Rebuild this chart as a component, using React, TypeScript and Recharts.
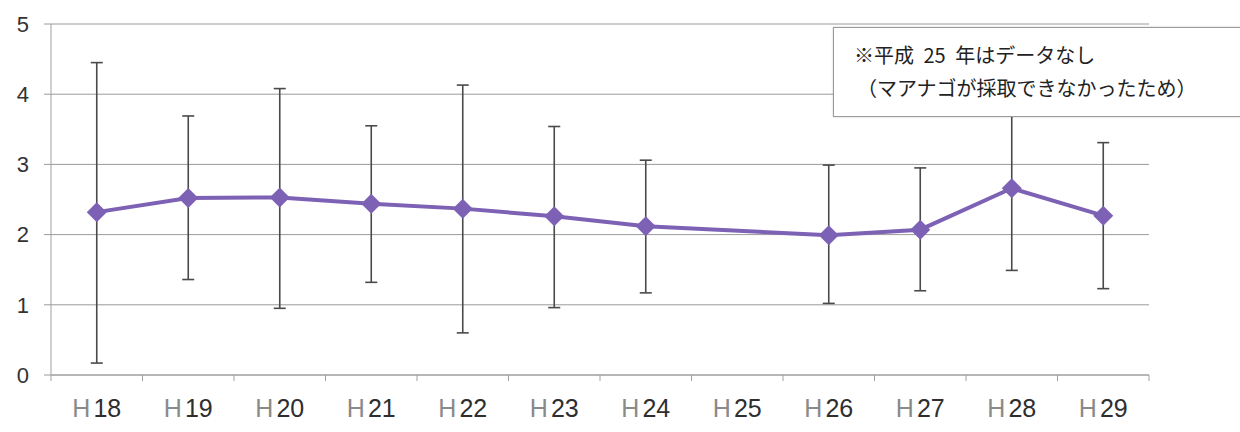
import { LineChart, Line, XAxis, YAxis, CartesianGrid, ErrorBar } from "recharts";

// values (H25: no sample)
const categories = ["H18", "H19", "H20", "H21", "H22", "H23", "H24", "H25", "H26", "H27", "H28", "H29"];
const meanValues = [2.32, 2.52, 2.53, 2.44, 2.37, 2.26, 2.12, null, 1.99, 2.07, 2.66, 2.27];
const upperValues = [4.45, 3.69, 4.08, 3.55, 4.13, 3.54, 3.06, null, 2.99, 2.95, 3.83, 3.31];
const lowerValues = [0.17, 1.36, 0.95, 1.32, 0.6, 0.96, 1.17, null, 1.02, 1.2, 1.49, 1.23];
const yTicks = [0, 1, 2, 3, 4, 5];
const noteLines = ["※平成 25 年はデータなし", "（マアナゴが採取できなかったため）"];

const W = 1240;
const H = 432;
const AXIS_W = 51;
const margin = { top: 24, right: 91, left: 0, bottom: 16 };
const bandWidth = (W - AXIS_W - margin.right) / categories.length;

const data = categories.map((name, i) => {
  const m = meanValues[i];
  const hi = upperValues[i];
  const lo = lowerValues[i];
  return {
    name,
    mean: m,
    err: m == null || hi == null || lo == null ? null : [m - lo, hi - m],
  };
});

function XTick(props: any) {
  const { x, y, payload, index } = props;
  const label = String(payload.value);
  const left = x - bandWidth / 2;
  const right = x + bandWidth / 2;
  return (
    <g>
      <line x1={left} y1={y} x2={left} y2={y + 6} stroke="#a0a0a0" />
      {index === categories.length - 1 && <line x1={right} y1={y} x2={right} y2={y + 6} stroke="#a0a0a0" />}
      <text x={x} y={y + 42} textAnchor="middle" fontSize={25} fontFamily="Arial, 'Liberation Sans', sans-serif">
        <tspan fill="#8a8a8a">{label.slice(0, 1)}</tspan>
        <tspan fill="#2e2e2e" dx={3}>{label.slice(1)}</tspan>
      </text>
    </g>
  );
}

function Diamond(props: any) {
  const { cx, cy, index } = props;
  if (cx == null || cy == null || isNaN(cy)) return <g key={`d-${index}`} />;
  const r = 10;
  return (
    <polygon
      key={`d-${index}`}
      points={`${cx},${cy - r} ${cx + r},${cy} ${cx},${cy + r} ${cx - r},${cy}`}
      fill="#7d61b5"
    />
  );
}

export default function App() {
  return (
    <div style={{ position: "absolute", left: 0, top: 0, width: W, height: H, background: "#fff", overflow: "hidden" }}>
      <LineChart width={W} height={H} data={data} margin={margin}>
        <CartesianGrid vertical={false} stroke="#9a9a9a" />
        <XAxis
          dataKey="name"
          axisLine={{ stroke: "#a0a0a0" }}
          tickLine={false}
          tickSize={0}
          tickMargin={0}
          height={41}
          interval={0}
          padding={{ left: bandWidth / 2, right: bandWidth / 2 }}
          tick={<XTick />}
        />
        <YAxis
          domain={[0, 5]}
          ticks={yTicks}
          width={AXIS_W}
          axisLine={{ stroke: "#a0a0a0" }}
          tickLine={{ stroke: "#9a9a9a" }}
          tickSize={7}
          tickMargin={15}
          tick={{ fontSize: 22, fill: "#333", fontFamily: "Arial, 'Liberation Sans', sans-serif" }}
        />
        {/* error bars drawn first so the purple line sits on top */}
        <Line dataKey="mean" stroke="none" dot={false} activeDot={false} isAnimationActive={false}>
          <ErrorBar dataKey="err" direction="y" width={6} stroke="#4a4a4a" strokeWidth={1.6} />
        </Line>
        <Line
          dataKey="mean"
          connectNulls
          stroke="#7d61b5"
          strokeWidth={4}
          dot={(p: any) => <Diamond {...p} />}
          activeDot={false}
          isAnimationActive={false}
        />
      </LineChart>
      <div
        style={{
          position: "absolute",
          left: 833,
          top: 27,
          width: 420,
          height: 90,
          boxSizing: "border-box",
          background: "#fff",
          border: "1px solid #9a9a9a",
          boxShadow: "0 0 2px rgba(0,0,0,0.2)",
          padding: "10px 0 0 20px",
          fontFamily: "'Noto Sans CJK JP', sans-serif",
          fontSize: 20,
          lineHeight: "33px",
          wordSpacing: 5,
          color: "#222",
          whiteSpace: "pre",
        }}
      >
        <div>{noteLines[0]}</div>
        <div style={{ paddingLeft: 3 }}>{noteLines[1]}</div>
      </div>
    </div>
  );
}
